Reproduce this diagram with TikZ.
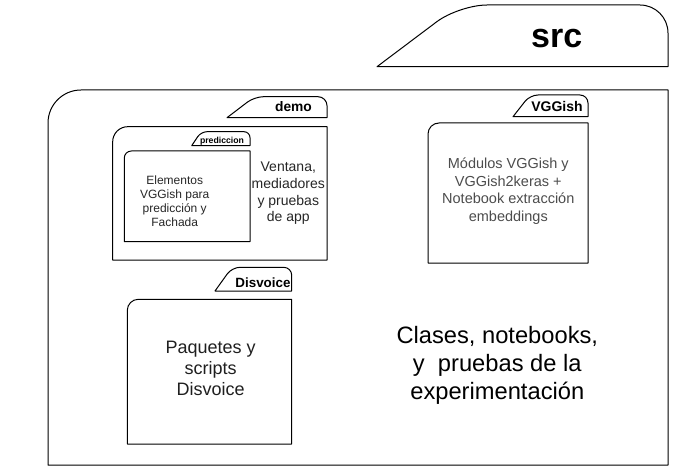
\documentclass[tikz,border=0pt]{standalone}
\usepackage{fontspec}
\setmainfont{Liberation Sans}
\usetikzlibrary{positioning}

\tikzset{
  folderline/.style={draw=black, line width=1pt, line join=round},
  tablabel/.style={font=\bfseries, inner sep=0pt},
  boxtext/.style={align=center, inner sep=0pt}
}

% #1,#2 = left x / bottom y, #3 = x where the slant meets the top, #4 = top y, #5 = right x, #6 = corner
\newcommand{\FolderTab}[6]{%
  \draw[folderline] (#1,#2) [rounded corners=#6pt] -- (#3,#4) -- (#5,#4)
    [sharp corners] -- (#5,#2) -- cycle;}
% #1,#2 = top left, #3,#4 = bottom right, #5 = radius of the top left corner
\newcommand{\FolderBox}[5]{%
  \draw[folderline] (#1,#4) [rounded corners=#5pt] -- (#1,#2)
    [sharp corners] -- (#3,#2) -- (#3,#4) -- cycle;}

\begin{document}
\begin{tikzpicture}[x=1pt, y=-1pt]
    \useasboundingbox (0,0) rectangle (674,473);
    \FolderTab{377}{66.7}{459}{5}{668}{28}
    \FolderBox{48}{90}{668}{465}{33}
    \FolderTab{227}{117.7}{254.5}{96.7}{327}{9}
    \FolderBox{112.7}{126.7}{327}{260}{15}
    \FolderTab{191.7}{145.7}{201}{131.7}{250}{6}
    \FolderBox{124.3}{151}{250}{241.7}{7}
    \FolderTab{513}{116.7}{530}{95}{588}{8}
    \FolderBox{428}{123}{588}{263}{11}
    \FolderTab{215}{291}{232}{267.3}{291.7}{8}
    \FolderBox{127.3}{299.3}{291.7}{444}{11}
    \node[tablabel, font=\fontsize{34}{38}\selectfont\bfseries] (src) at (556.7,39) {src};
    \node[tablabel, font=\fontsize{13.8}{16}\selectfont\bfseries] (demo) at (293.5,107) {demo};
    \node[tablabel, font=\fontsize{8.7}{10}\selectfont\bfseries] (prediccion) at (222,141.7) {prediccion};
    \node[tablabel, font=\fontsize{14}{16}\selectfont\bfseries] (vggish) at (557,106.7) {VGGish};
    \node[tablabel, font=\fontsize{13.4}{16}\selectfont\bfseries] (disvoice) at (263,282.7) {Disvoice};
    \node[boxtext, text=black!85, font=\fontsize{12}{14}\selectfont] (elementos) at (174.7,201.5)
      {Elementos\\VGGish para\\predicción y\\Fachada};
    \node[boxtext, text=black!85, font=\fontsize{14}{16.6}\selectfont] (ventana) at (288.3,193.5)
      {Ventana,\\mediadores\\y pruebas\\de app};
    \node[boxtext, text=black!70, font=\fontsize{14.5}{17.6}\selectfont] (modulos) at (508.3,191)
      {Módulos VGGish y\\VGGish2keras +\\Notebook extracción\\embeddings};
    \node[boxtext, text=black!88, font=\fontsize{18}{21}\selectfont] (paquetes) at (210.7,368)
      {Paquetes y\\scripts\\Disvoice};
    \node[boxtext, text=black, font=\fontsize{23.7}{28}\selectfont] (clases) at (497.3,365)
      {Clases, notebooks,\\y~ pruebas de la\\experimentación};
\end{tikzpicture}
\end{document}
